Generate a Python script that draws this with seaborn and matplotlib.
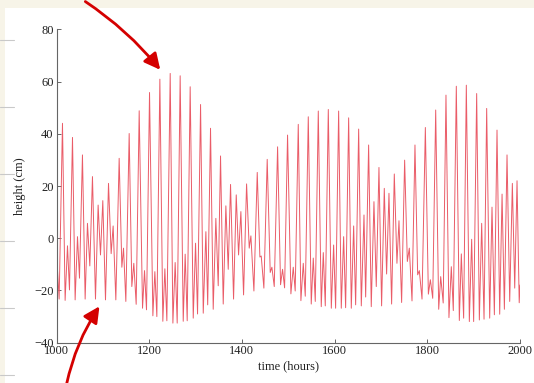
import numpy as np
import pandas as pd
import matplotlib
matplotlib.use("Agg")
import matplotlib.pyplot as plt
from matplotlib.patches import Rectangle
from matplotlib.lines import Line2D
import seaborn as sns

##tide record, turning points##
hours = [1000.0, 1005.7, 1012.9, 1018.6, 1023.7, 1028.0, 1034.5, 1040.2, 1045.3, 1049.6,
         1056.0, 1061.8, 1066.8, 1071.9, 1077.6, 1084.1, 1089.8, 1094.9, 1099.9, 1105.7,
         1112.2, 1117.9, 1122.2, 1128.0, 1135.2, 1141.0, 1144.6, 1149.6, 1156.8, 1162.5,
         1166.8, 1171.9, 1178.4, 1185.6, 1189.9, 1194.2, 1200.7, 1207.9, 1212.2, 1216.5,
         1223.0, 1229.4, 1233.8, 1238.1, 1245.3, 1251.1, 1256.0, 1260.4, 1266.8, 1273.4,
         1277.6, 1282.0, 1288.4, 1295.0, 1300.0, 1304.3, 1310.8, 1316.6, 1322.3, 1326.2,
         1332.3, 1338.1, 1343.8, 1348.9, 1353.9, 1359.7, 1365.4, 1370.5, 1375.5, 1382.0,
         1387.8, 1392.8, 1397.8, 1403.6, 1410.1, 1415.8, 1419.4, 1425.9, 1433.1, 1438.8,
         1441.7, 1447.4, 1454.6, 1461.1, 1464.7, 1469.8, 1477.0, 1483.4, 1487.7, 1492.1,
         1498.5, 1505.7, 1510.8, 1515.0, 1521.6, 1527.3, 1532.4, 1536.7, 1543.2, 1549.6,
         1554.0, 1558.3, 1564.8, 1571.2, 1575.6, 1579.9, 1586.4, 1592.9, 1597.9, 1602.2,
         1608.7, 1614.4, 1619.5, 1623.8, 1630.3, 1636.0, 1641.1, 1645.4, 1651.9, 1657.6,
         1663.4, 1667.0, 1673.4, 1679.1, 1684.9, 1689.9, 1695.7, 1701.4, 1707.2, 1712.2,
         1717.3, 1723.0, 1728.8, 1734.5, 1738.9, 1744.6, 1751.1, 1756.9, 1761.2, 1767.0,
         1773.4, 1779.2, 1782.8, 1788.6, 1795.8, 1802.3, 1806.6, 1811.7, 1818.1, 1824.6,
         1828.9, 1834.3, 1840.3, 1846.7, 1851.8, 1856.1, 1862.6, 1869.1, 1873.4, 1878.4,
         1884.2, 1890.7, 1895.7, 1900.0, 1906.5, 1912.3, 1917.3, 1922.4, 1928.1, 1934.6,
         1939.6, 1944.7, 1950.4, 1956.2, 1961.3, 1966.3, 1972.0, 1977.8, 1983.5, 1988.6,
         1993.6, 1998.3, 2000.0]
height = [-5.5, -23.3, 44.0, -23.8, -2.9, -19.8, 38.6, -23.6, 0.6, -15.3,
          31.9, -23.3, 5.7, -10.6, 23.6, -23.3, 12.7, -6.4, 14.4, -23.6,
          21.0, -5.9, 4.7, -23.6, 30.6, -11.1, -3.8, -24.2, 40.1, -18.5,
          -9.6, -25.3, 48.8, -26.8, -12.4, -27.4, 55.8, -29.7, -12.8, -30.0,
          60.9, -31.8, -11.7, -31.6, 63.1, -32.5, -9.3, -32.5, 62.2, -31.8,
          -6.1, -31.6, 58.0, -30.6, -1.9, -29.0, 51.2, -28.7, 2.5, -25.5,
          42.1, -27.2, 7.6, -18.2, 31.5, -25.2, 12.4, -11.9, 20.6, -23.3,
          16.6, -6.4, 10.2, -21.7, 20.8, -3.8, 0.9, -20.2, 25.2, -7.2,
          -6.8, -19.1, 30.2, -13.1, -11.1, -18.5, 35.0, -17.8, -11.9, -19.0,
          39.5, -21.3, -11.1, -20.2, 43.6, -23.9, -9.6, -22.2, 46.5, -25.2,
          -7.6, -24.2, 48.7, -26.2, -5.5, -25.9, 49.3, -26.8, -2.6, -26.8,
          48.7, -26.8, 0.6, -26.6, 46.1, -26.8, 4.7, -25.5, 41.8, -25.9,
          8.9, -22.5, 35.7, -26.2, 14.0, -18.5, 27.1, -25.9, 19.1, -13.7,
          17.2, -25.2, 24.6, -9.6, 6.7, -24.6, 29.9, -8.9, -3.8, -24.0,
          35.7, -14.0, -12.4, -23.3, 42.4, -21.4, -15.9, -23.0, 49.1, -27.2,
          -14.7, -24.8, 54.8, -30.4, -10.9, -27.7, 58.2, -31.5, -6.0, -30.6,
          58.6, -31.9, -0.4, -31.9, 55.4, -31.3, 5.7, -31.0, 49.7, -30.6,
          11.9, -29.3, 41.4, -29.1, 16.9, -27.2, 31.9, -24.2, 21.0, -19.1,
          22.0, -24.7, -17.9]

xticks = [1000, 1200, 1400, 1600, 1800, 2000]
yticks = [-40, -20, 0, 20, 40, 60, 80]

sns.set_style("ticks")
plt.rcParams['font.family'] = ['Liberation Serif', 'DejaVu Serif']
plt.rcParams['xtick.direction'] = 'in'
plt.rcParams['ytick.direction'] = 'in'

fig = plt.figure(figsize=(5.34, 3.83), dpi=100, facecolor='#f7f4e8')
# white page on the cream viewer background
fig.add_artist(Rectangle((5/534, 0), 1, 1 - 8/383, transform=fig.transFigure,
                         facecolor='white', edgecolor='none', zorder=-10))
for yy in [40, 107, 174, 241, 308, 375]:
    fig.add_artist(Line2D([0, 14/534], [1 - yy/383]*2, transform=fig.transFigure,
                          color='#c9c9c9', lw=0.8))

ax = fig.add_axes([56.5/534, 1 - 342.7/383, 463.5/534, 313.4/383])
ax.set_facecolor('white')

df = pd.DataFrame({'time': hours, 'height': height})
sns.lineplot(data=df, x='time', y='height', ax=ax, color='#ea5c68', lw=0.7,
             estimator=None, sort=False)

ax.set_xlim(1000, 2000)
ax.set_ylim(-40, 80)
ax.set_xticks(xticks)
ax.set_yticks(yticks)
sns.despine(ax=ax)
for side in ['left', 'bottom']:
    ax.spines[side].set_color('#666666')
    ax.spines[side].set_linewidth(0.8)
ax.tick_params(colors='#666666', labelcolor='#222222', labelsize=9, length=3, width=0.7, pad=2)
ax.set_xlabel('time (hours)', fontsize=9, color='#222222', labelpad=2)
ax.set_ylabel('height (cm)', fontsize=9, color='#222222', labelpad=6)

# hand drawn red arrows
arrow = dict(arrowstyle='-|>', color='#d40000', lw=2.0, mutation_scale=24)
ax.annotate('', xy=(162/534, 1 - 72/383), xytext=(83/534, 1.0),
            xycoords='figure fraction', textcoords='figure fraction',
            arrowprops=dict(arrow, connectionstyle='arc3,rad=-0.08'), annotation_clip=False)
ax.annotate('', xy=(101/534, 1 - 304/383), xytext=(66/534, -0.01),
            xycoords='figure fraction', textcoords='figure fraction',
            arrowprops=dict(arrow, connectionstyle='arc3,rad=-0.1'), annotation_clip=False)

plt.savefig('out.png', dpi=100, facecolor=fig.get_facecolor())
